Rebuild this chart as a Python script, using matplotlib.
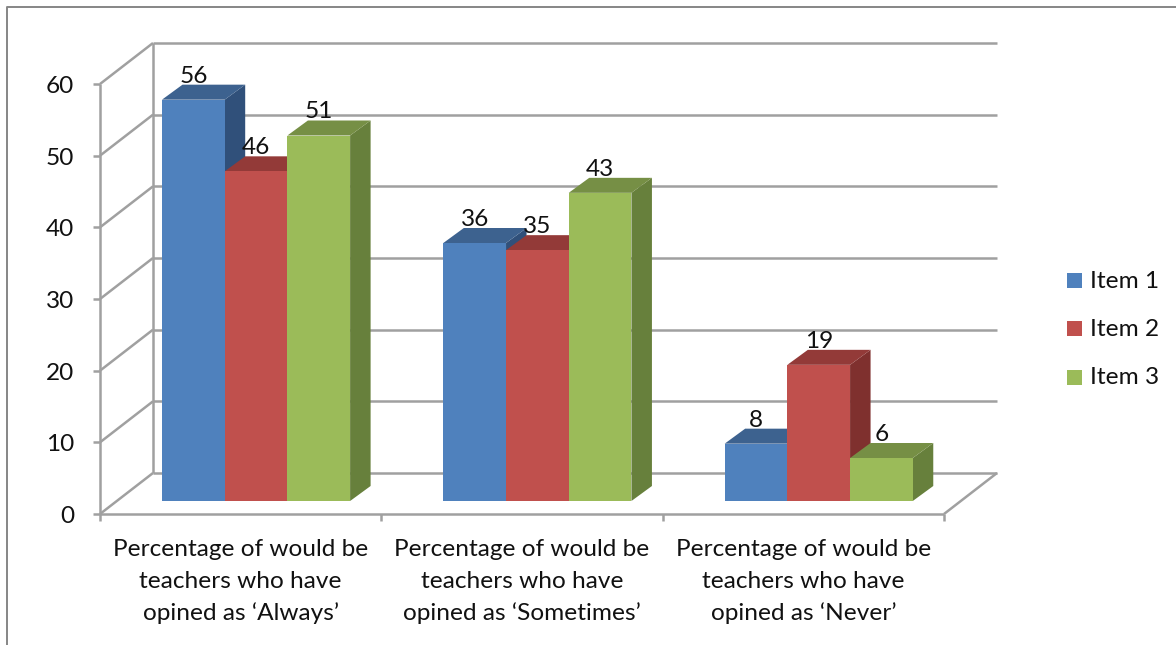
import matplotlib
matplotlib.use("Agg")
import matplotlib.pyplot as plt
from matplotlib.patches import Polygon, Rectangle

categories = ["Percentage of would be\nteachers who have\nopined as ‘Always’",
              "Percentage of would be\nteachers who have\nopined as ‘Sometimes’",
              "Percentage of would be\nteachers who have\nopined as ‘Never’"]
series_names = ["Item 1", "Item 2", "Item 3"]
item1 = [56, 36, 8]
item2 = [46, 35, 19]
item3 = [51, 43, 6]
series = [item1, item2, item3]
yticks = [0, 10, 20, 30, 40, 50, 60]
front = ["#4F81BD", "#C0504D", "#9BBB59"]
top = ["#3D628F", "#933A38", "#768F45"]
side = ["#30507A", "#7F302E", "#67803C"]
grid = "#A0A0A0"
FS = 17.6

W, H = 1176, 645
plt.rcParams['font.family'] = ['Lato', 'DejaVu Sans']
fig = plt.figure(figsize=(W/100, H/100), dpi=100)
L, R, B, T = 100, 944, 514, 84
ax = fig.add_axes([L/W, 1-B/H, (R-L)/W, (B-T)/H])
ax.set_xlim(0, 3); ax.set_ylim(0, 60)
ax.axis("off")
px = 3/(R-L); py = 60/(B-T)
wall = (53*px, 41*py)

def line(xs, ys, c=grid, lw=1.8, z=1):
    ax.plot(xs, ys, color=c, lw=lw, clip_on=False, zorder=z, solid_capstyle="butt")

for v in yticks:
    line([0, wall[0]], [v, v+wall[1]])
    line([wall[0], 3+wall[0]], [v+wall[1], v+wall[1]])
    line([-7*px, 0], [v, v])
    ax.text(-26*px, v-2.5*py, str(v), ha="right", va="center", fontsize=FS, color="#111111", clip_on=False)
line([0, 0], [0, 60])
line([wall[0], wall[0]], [wall[1], 60+wall[1]])
line([0, 3], [0, 0])
line([3, 3+wall[0]], [0, wall[1]])
for i in range(4):
    line([i, i], [-7*py, 0])
for i, c in enumerate(categories):
    ax.text(i+0.5, -25.5*py, c, ha="center", va="top", fontsize=FS, color="#111111", linespacing=1.6, clip_on=False)

off_x, bw = 62*px, 62.7*px
base = 13*py
dx, dy = 20.5*px, 15*py
for i in range(3):
    for j, s in enumerate(series):
        x0 = i + off_x + j*bw
        v = s[i]
        y0, y1 = base, base + v
        z = 3 + j
        ax.add_patch(Polygon([(x0+bw, y0), (x0+bw+dx, y0+dy), (x0+bw+dx, y1+dy), (x0+bw, y1)],
                             fc=side[j], ec="none", zorder=z, clip_on=False))
        ax.add_patch(Polygon([(x0, y1), (x0+dx, y1+dy), (x0+bw+dx, y1+dy), (x0+bw, y1)],
                             fc=top[j], ec="none", zorder=z, clip_on=False))
        ax.add_patch(Rectangle((x0, y0), bw, v, fc=front[j], ec="none", zorder=z+0.1, clip_on=False))
        ax.text(x0+bw/2, y1+dy+8.5*py, str(v), ha="center", va="center",
                fontsize=FS, color="#111111", zorder=10, clip_on=False)

# outer chart border
fig.add_artist(plt.Line2D([7/W, 7/W, 1], [0, 1-7/H, 1-7/H], color="#868686", lw=1.4))

# legend
for name, c, yp in zip(series_names, front, [280, 328.5, 377]):
    fig.add_artist(Rectangle((1067/W, 1-(yp+7.5)/H), 15/W, 15/H, fc=c, ec="none", transform=fig.transFigure))
    fig.text(1090/W, 1-(yp+1)/H, name, ha="left", va="center", fontsize=FS, color="#111111")

fig.savefig("out.png", dpi=100)
